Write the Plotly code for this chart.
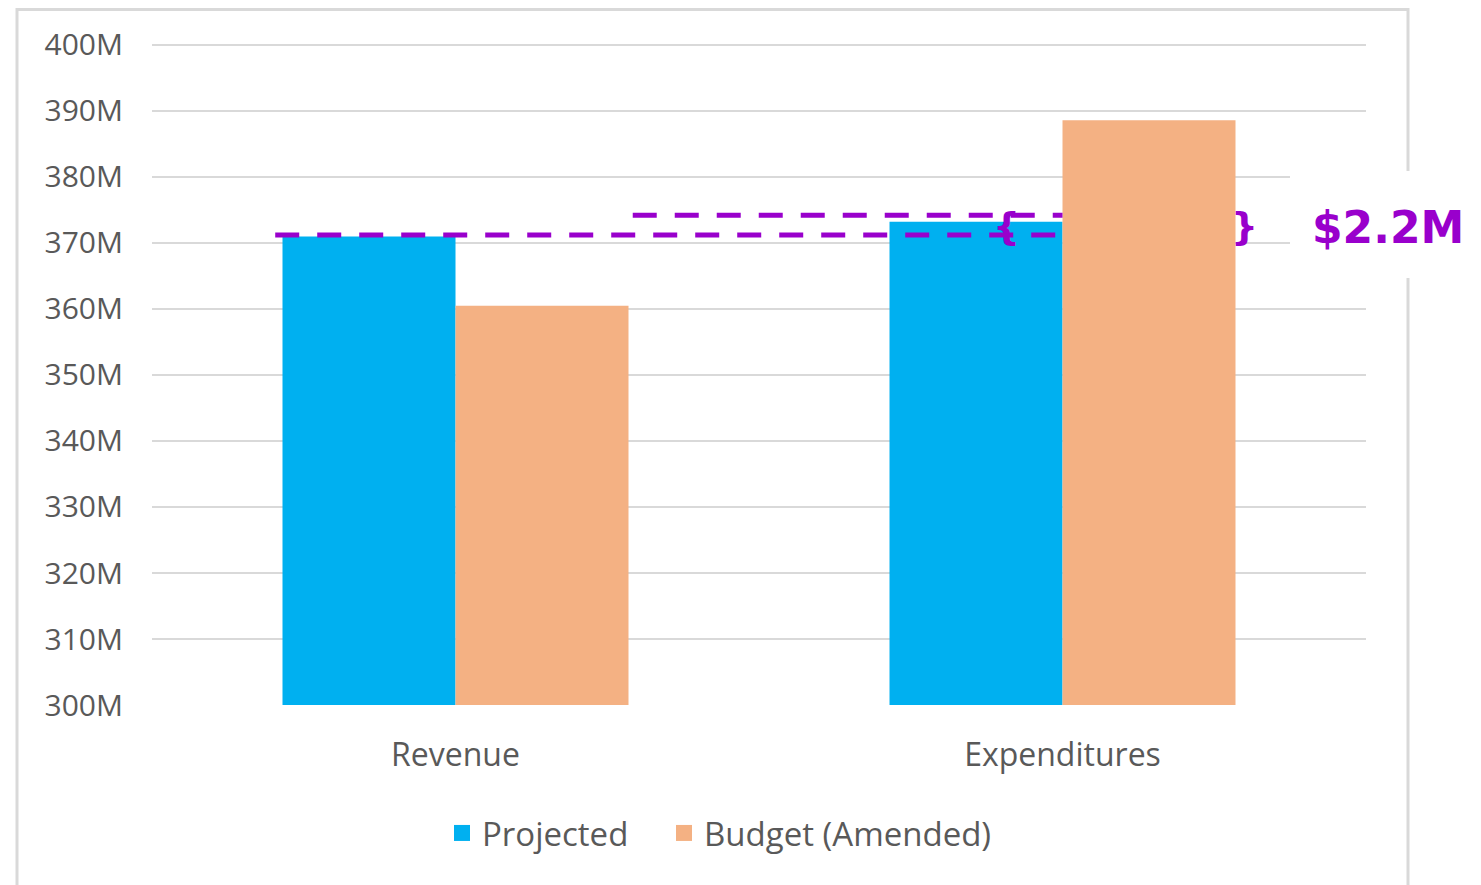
import plotly.graph_objects as go

categories = ["Revenue", "Expenditures"]
projected = [371.0, 373.2]
budget_amended = [360.5, 388.6]
y_ticks = [300, 310, 320, 330, 340, 350, 360, 370, 380, 390, 400]
gap_label = "$2.2M"

# page geometry (pixels); the page body adds an 8px offset to the figure
W, H = 1481, 885
OFF = 8
L, T = 152 - OFF, 43 - OFF
PW, PH = 1214, 662
R, B = W - L - PW, H - T - PH

def px_x(p):
    return (p - OFF - L) / PW

def px_y(p):
    return (T + PH - (p - OFF)) / PH

PURPLE = "#9900CC"
GRID = "#D9D9D9"
TEXT = "#595959"
BLUE = "#00B0F0"
ORANGE = "#F4B183"

fig = go.Figure()
fig.add_trace(go.Bar(x=categories, y=projected, name="Projected", showlegend=False,
                     marker=dict(color=BLUE, line=dict(width=0))))
fig.add_trace(go.Bar(x=categories, y=budget_amended, name="Budget (Amended)", showlegend=False,
                     marker=dict(color=ORANGE, line=dict(width=0))))
# legend entries with bigger square swatches, one legend each so they sit apart
fig.add_trace(go.Scatter(x=[None], y=[None], mode="markers", name="Projected", legend="legend",
                         marker=dict(symbol="square", size=20, color=BLUE, line=dict(width=0))))
fig.add_trace(go.Scatter(x=[None], y=[None], mode="markers", name="Budget (Amended)", legend="legend2",
                         marker=dict(symbol="square", size=20, color=ORANGE, line=dict(width=0))))

# outer chart border (cut by the white label box on the right)
fig.add_shape(type="rect", xref="paper", yref="paper",
              x0=px_x(17), x1=px_x(1408), y0=px_y(905), y1=px_y(9.5),
              line=dict(color=GRID, width=3), layer="below")

# dashed comparison lines, they stop where the orange bar starts
fig.add_shape(type="line", xref="x", yref="y", x0=-0.297, x1=1.0, y0=371.2, y1=371.2,
              line=dict(color=PURPLE, width=5, dash="24px,18px"))
fig.add_shape(type="line", xref="x", yref="y", x0=0.292, x1=1.0, y0=374.2, y1=374.2,
              line=dict(color=PURPLE, width=5, dash="24px,18px"))

# white box behind the label
fig.add_shape(type="rect", xref="paper", yref="paper",
              x0=px_x(1290), x1=px_x(1500), y0=px_y(278), y1=px_y(171),
              fillcolor="white", line=dict(width=0))

fig.add_annotation(x=0.907, y=372.6, xref="x", yref="y", text="<b>{</b>", showarrow=False,
                   xanchor="center", yanchor="middle",
                   font=dict(family="DejaVu Sans", size=38, color=PURPLE))
fig.add_annotation(x=1.30, y=372.6, xref="x", yref="y", text="<b>}</b>", showarrow=False,
                   xanchor="center", yanchor="middle",
                   font=dict(family="DejaVu Sans", size=38, color=PURPLE))
fig.add_annotation(x=px_x(1388), y=px_y(227), xref="paper", yref="paper",
                   text="<b>" + gap_label + "</b>", showarrow=False,
                   xanchor="center", yanchor="middle",
                   font=dict(family="DejaVu Sans", size=44, color=PURPLE))

legend_style = dict(orientation="h", xanchor="left", yanchor="middle", y=px_y(833),
                    font=dict(size=33, color=TEXT), itemwidth=30, itemsizing="trace",
                    bgcolor="rgba(0,0,0,0)")
fig.update_layout(
    width=W, height=H,
    margin=dict(l=L, r=R, t=T, b=B),
    paper_bgcolor="white", plot_bgcolor="white",
    barmode="group", bargap=0.43, bargroupgap=0,
    font=dict(family="Open Sans", color=TEXT),
    showlegend=True,
    legend=dict(x=px_x(442), **legend_style),
    legend2=dict(x=px_x(664), **legend_style),
)
fig.update_xaxes(showgrid=False, showline=False, zeroline=False,
                 tickfont=dict(size=32, color=TEXT), ticklabelstandoff=28)
fig.update_yaxes(range=[300, 400.3], tickvals=y_ticks, ticktext=[f"{v}M" for v in y_ticks],
                 showgrid=True, gridcolor=GRID, gridwidth=2, zeroline=False, showline=False,
                 tickfont=dict(size=30, color=TEXT), ticklabelstandoff=28)

fig.write_html("out.html")
